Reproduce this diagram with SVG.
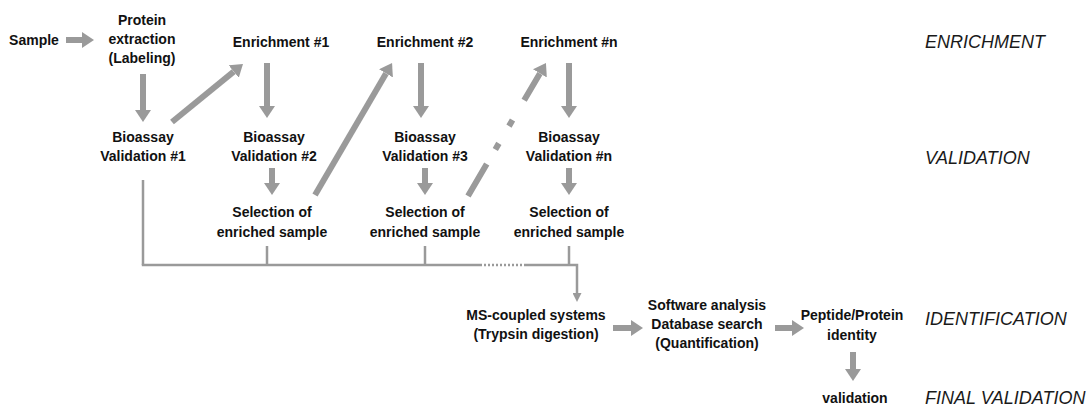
<svg xmlns="http://www.w3.org/2000/svg" width="1092" height="408" viewBox="0 0 1092 408">
<style>
.t{font-family:"Liberation Sans",Arial,sans-serif;font-weight:bold;font-size:14px;fill:#111;text-anchor:middle}
.lab{font-family:"Liberation Sans",Arial,sans-serif;font-style:italic;font-size:18px;fill:#1a1a1a}
.a{stroke:#9a9a9a;stroke-width:6;fill:none;marker-end:url(#ah)}
.c{stroke:#9a9a9a;stroke-width:2.5;fill:none}
</style>
<defs>
<marker id="ah" markerUnits="userSpaceOnUse" viewBox="0 0 12 16" refX="0" refY="8" markerWidth="12" markerHeight="16" orient="auto">
<path d="M0,0 L12,8 L0,16 Z" fill="#9a9a9a"/>
</marker>
<marker id="sh" markerUnits="userSpaceOnUse" viewBox="0 0 9 9" refX="0" refY="4.5" markerWidth="9" markerHeight="9" orient="auto">
<path d="M0,0 L9,4.5 L0,9 Z" fill="#9a9a9a"/>
</marker>
</defs>
<g id="connectors">
<line class="a" x1="66" y1="40" x2="82" y2="40"/>
<line class="a" x1="143" y1="74" x2="143" y2="110"/>
<line class="a" x1="172" y1="122" x2="233.7" y2="71.6"/>
<line class="a" x1="267" y1="63" x2="267" y2="106"/>
<line class="a" x1="272" y1="168" x2="272" y2="183"/>
<line class="a" x1="315" y1="195" x2="386" y2="73.4"/>
<line class="a" x1="421" y1="63" x2="421" y2="106"/>
<line class="a" x1="425" y1="168" x2="425" y2="183"/>
<line class="a" x1="468" y1="196" x2="539.9" y2="73.4" stroke-dasharray="37 17 7 20 7 23 60"/>
<line class="a" x1="569" y1="63" x2="569" y2="106"/>
<line class="a" x1="569" y1="168" x2="569" y2="183"/>
<line class="a" x1="613" y1="328" x2="631" y2="328"/>
<line class="a" x1="775" y1="328" x2="792" y2="328"/>
<line class="a" x1="853" y1="352" x2="853" y2="369"/>
<line class="c" x1="143" y1="180" x2="143" y2="265"/>
<line class="c" x1="267" y1="246" x2="267" y2="265"/>
<line class="c" x1="425" y1="246" x2="425" y2="265"/>
<line class="c" x1="569" y1="246" x2="569" y2="265"/>
<line class="c" x1="141.8" y1="265" x2="480" y2="265"/>
<line class="c" x1="480" y1="265" x2="525" y2="265" stroke-width="2" stroke-dasharray="2 2"/>
<polyline class="c" points="525,265 577,265 577,293" marker-end="url(#sh)"/>
</g>
<g id="sample"><text class="t" x="34" y="45">Sample</text></g>
<g id="protein"><text class="t" x="142" y="25">Protein</text><text class="t" x="142" y="44">extraction</text><text class="t" x="142" y="63">(Labeling)</text></g>
<g id="enr1"><text class="t" x="281" y="47">Enrichment #1</text></g>
<g id="enr2"><text class="t" x="425" y="47">Enrichment #2</text></g>
<g id="enrn"><text class="t" x="569" y="47">Enrichment #n</text></g>
<g id="val1"><text class="t" x="143" y="142">Bioassay</text><text class="t" x="143" y="161">Validation #1</text></g>
<g id="val2"><text class="t" x="274" y="142">Bioassay</text><text class="t" x="274" y="161">Validation #2</text></g>
<g id="val3"><text class="t" x="425" y="142">Bioassay</text><text class="t" x="425" y="161">Validation #3</text></g>
<g id="valn"><text class="t" x="569" y="142">Bioassay</text><text class="t" x="569" y="161">Validation #n</text></g>
<g id="sel2"><text class="t" x="272" y="217">Selection of</text><text class="t" x="272" y="237">enriched sample</text></g>
<g id="sel3"><text class="t" x="425" y="217">Selection of</text><text class="t" x="425" y="237">enriched sample</text></g>
<g id="seln"><text class="t" x="569" y="217">Selection of</text><text class="t" x="569" y="237">enriched sample</text></g>
<g id="ms"><text class="t" x="536" y="320">MS-coupled systems</text><text class="t" x="536" y="339">(Trypsin digestion)</text></g>
<g id="software"><text class="t" x="707" y="310">Software analysis</text><text class="t" x="707" y="329">Database search</text><text class="t" x="707" y="348">(Quantification)</text></g>
<g id="peptide"><text class="t" x="852" y="320">Peptide/Protein</text><text class="t" x="852" y="340">identity</text></g>
<g id="validation"><text class="t" x="855" y="403">validation</text></g>
<g id="labels">
<text class="lab" x="925" y="48">ENRICHMENT</text>
<text class="lab" x="925" y="164">VALIDATION</text>
<text class="lab" x="925" y="325">IDENTIFICATION</text>
<text class="lab" x="925" y="404">FINAL VALIDATION</text>
</g>
</svg>
